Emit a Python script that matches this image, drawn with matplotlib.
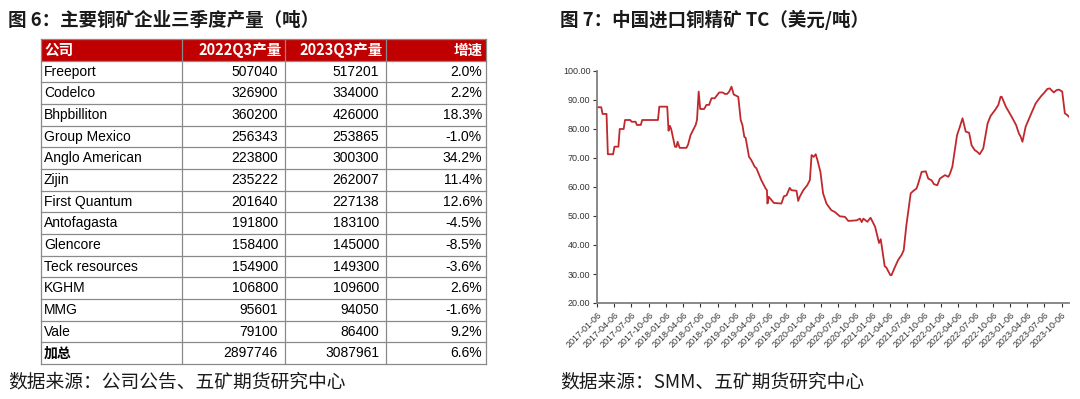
import matplotlib
matplotlib.use("Agg")
import matplotlib.pyplot as plt
from matplotlib.patches import Rectangle
import pandas as pd

plt.rcParams['font.family'] = ['Liberation Sans', 'Noto Sans CJK SC', 'DejaVu Sans']
CJK = ['Noto Sans CJK SC', 'DejaVu Sans']

# figure 6 table data
companies = ["Freeport", "Codelco", "Bhpbilliton", "Group Mexico", "Anglo American", "Zijin",
             "First Quantum", "Antofagasta", "Glencore", "Teck resources", "KGHM", "MMG", "Vale", "加总"]
q3_2022 = [507040, 326900, 360200, 256343, 223800, 235222, 201640, 191800, 158400, 154900,
           106800, 95601, 79100, 2897746]
q3_2023 = [517201, 334000, 426000, 253865, 300300, 262007, 227138, 183100, 145000, 149300,
           109600, 94050, 86400, 3087961]
growth = [2.0, 2.2, 18.3, -1.0, 34.2, 11.4, 12.6, -4.5, -8.5, -3.6, 2.6, -1.6, 9.2, 6.6]
headers = ["公司", "2022Q3产量", "2023Q3产量", "增速"]

# figure 7 TC data (USD/t)
tc_dates = [
    "2017-01-06", "2017-01-27", "2017-02-03", "2017-02-24", "2017-03-03", "2017-03-31", "2017-04-07",
    "2017-04-28", "2017-05-05", "2017-05-26", "2017-06-02", "2017-06-30", "2017-07-07", "2017-07-28",
    "2017-08-04", "2017-08-25", "2017-09-01", "2017-11-24", "2017-12-01", "2018-01-12", "2018-01-19",
    "2018-01-26", "2018-02-02", "2018-02-22", "2018-03-02", "2018-03-08", "2018-03-19", "2018-04-24",
    "2018-05-03", "2018-05-16", "2018-06-12", "2018-06-19", "2018-06-28", "2018-07-06", "2018-07-27",
    "2018-08-08", "2018-08-22", "2018-09-04", "2018-09-21", "2018-10-15", "2018-11-02", "2018-11-14",
    "2018-11-26", "2018-12-07", "2018-12-19", "2018-12-31", "2019-01-24", "2019-02-06", "2019-02-15",
    "2019-02-25", "2019-03-04", "2019-03-22", "2019-04-03", "2019-04-21", "2019-04-30", "2019-05-26",
    "2019-06-18", "2019-06-25", "2019-06-28", "2019-07-04", "2019-07-13", "2019-08-01", "2019-09-10",
    "2019-09-23", "2019-10-07", "2019-10-24", "2019-11-02", "2019-11-29", "2019-12-08", "2019-12-16",
    "2020-01-04", "2020-01-25", "2020-02-08", "2020-02-17", "2020-02-28", "2020-03-10", "2020-03-19",
    "2020-04-04", "2020-04-18", "2020-05-06", "2020-05-18", "2020-06-01", "2020-06-19", "2020-07-16",
    "2020-08-12", "2020-08-30", "2020-10-13", "2020-10-31", "2020-11-09", "2020-11-18", "2020-12-09",
    "2020-12-26", "2021-01-19", "2021-02-09", "2021-02-18", "2021-03-01", "2021-03-11", "2021-03-20",
    "2021-04-10", "2021-04-16", "2021-05-03", "2021-05-21", "2021-06-08", "2021-06-20", "2021-07-04",
    "2021-07-27", "2021-08-09", "2021-08-27", "2021-09-05", "2021-09-23", "2021-10-15", "2021-10-28",
    "2021-11-15", "2021-11-27", "2021-12-15", "2021-12-29", "2022-01-25", "2022-02-12", "2022-02-21",
    "2022-03-05", "2022-03-30", "2022-04-14", "2022-04-28", "2022-05-15", "2022-06-02", "2022-06-15",
    "2022-07-02", "2022-07-14", "2022-07-28", "2022-08-16", "2022-09-08", "2022-09-24", "2022-10-17",
    "2022-11-04", "2022-11-16", "2022-11-22", "2022-12-14", "2023-01-14", "2023-02-06", "2023-02-22",
    "2023-03-01", "2023-03-12", "2023-03-29", "2023-04-20", "2023-04-28", "2023-05-21", "2023-06-03",
    "2023-06-21", "2023-07-03", "2023-07-22", "2023-08-04", "2023-08-25", "2023-09-09", "2023-09-21",
    "2023-10-09", "2023-10-23", "2023-11-05", "2023-11-14",
]
tc_values = [
    87.5, 87.5, 85.2, 85.2, 71.3, 71.3, 73.9,
    73.9, 80.0, 80.0, 83.1, 83.1, 82.5, 82.5,
    81.4, 81.4, 83.1, 83.1, 87.7, 87.7, 79.4,
    81.1, 80.0, 73.9, 73.8, 75.6, 73.5, 73.5,
    74.7, 77.9, 81.4, 83.1, 92.9, 86.9, 86.9,
    88.3, 88.3, 90.6, 90.6, 92.6, 92.6, 92.1,
    92.1, 92.9, 94.6, 91.9, 91.1, 83.1, 81.4,
    77.3, 77.0, 70.4, 69.3, 67.0, 66.5, 62.4,
    59.5, 58.9, 54.3, 56.6, 56.0, 54.5, 54.3,
    56.8, 57.1, 59.7, 58.9, 58.7, 55.2, 56.6,
    58.9, 60.6, 62.4, 71.0, 70.4, 71.3, 69.3,
    65.2, 57.8, 54.3, 53.2, 52.0, 51.4, 49.9,
    49.7, 48.3, 48.5, 49.1, 47.9, 49.1, 48.0,
    49.4, 46.3, 40.7, 42.0, 37.1, 32.7, 32.2,
    29.6, 29.6, 32.2, 34.8, 36.5, 38.2, 46.8,
    57.8, 58.6, 59.5, 61.2, 65.2, 65.4, 62.9,
    62.3, 61.0, 60.6, 62.9, 64.1, 63.5, 64.7,
    67.0, 77.9, 80.8, 83.7, 79.1, 78.7, 74.4,
    72.7, 72.2, 71.3, 73.3, 81.9, 84.5, 86.5,
    88.3, 91.1, 91.1, 87.7, 84.2, 81.4, 78.3,
    77.6, 75.6, 80.8, 84.2, 85.4, 88.8, 90.0,
    91.5, 92.3, 93.8, 94.0, 92.6, 93.4, 93.6,
    92.9, 85.4, 84.8, 84.2,
]
tick_dates = [f"{y}-{m:02d}-06" for y in range(2017, 2024) for m in (1, 4, 7, 10)]

fig = plt.figure(figsize=(10.8, 3.99), dpi=100)

# titles and sources
fig.text(8 / 1080, 1 - 20 / 399, "图 6：主要铜矿企业三季度产量（吨）", family=CJK, fontsize=13.3,
         fontweight='bold', va='center', ha='left', color='#1a1a1a')
fig.text(560 / 1080, 1 - 20 / 399, "图 7：中国进口铜精矿 TC（美元/吨）", family=CJK, fontsize=13.3,
         fontweight='bold', va='center', ha='left', color='#1a1a1a')
fig.text(8 / 1080, 1 - 382 / 399, "数据来源：公司公告、五矿期货研究中心", family=CJK, fontsize=13.5,
         va='center', ha='left', color='#1a1a1a')
fig.text(560 / 1080, 1 - 382 / 399, "数据来源：SMM、五矿期货研究中心", family=CJK, fontsize=13.5,
         va='center', ha='left', color='#1a1a1a')

# table drawn in pixel coordinates
tab = fig.add_axes([0, 0, 1, 1])
tab.set_xlim(0, 1080)
tab.set_ylim(399, 0)
tab.axis('off')

col_edges = [41, 182, 285, 386, 486]
top, row_h = 39, 21.67
n_rows = len(companies) + 1
bottom = top + n_rows * row_h

tab.add_patch(Rectangle((col_edges[0], top), col_edges[-1] - col_edges[0], row_h,
                        facecolor='#C00000', edgecolor='none'))
for i in range(n_rows + 1):
    y = top + i * row_h
    tab.plot([col_edges[0], col_edges[-1]], [y, y], color='#8a8a8a', lw=0.9)
for x in col_edges:
    tab.plot([x, x], [top, bottom], color='#8a8a8a', lw=0.9)

for j, h in enumerate(headers):
    yc = top + row_h / 2
    if j == 0:
        tab.text(col_edges[0] + 3, yc, h, ha='left', va='center', color='white',
                 fontsize=10.5, fontweight='bold', family=CJK)
    else:
        tab.text(col_edges[j + 1] - 3, yc, h, ha='right', va='center', color='white',
                 fontsize=10.5, fontweight='bold', family=CJK)

for i, name in enumerate(companies):
    yc = top + (i + 1.5) * row_h
    last = i == len(companies) - 1
    tab.text(col_edges[0] + 3, yc, name, ha='left', va='center', fontsize=10,
             fontweight='bold' if last else 'normal', color='black')
    tab.text(col_edges[2] - 7, yc, str(q3_2022[i]), ha='right', va='center', fontsize=10)
    tab.text(col_edges[3] - 7, yc, str(q3_2023[i]), ha='right', va='center', fontsize=10)
    tab.text(col_edges[4] - 4, yc, f"{growth[i]:.1f}%", ha='right', va='center', fontsize=10)

# TC line chart
ax = fig.add_axes([597.3 / 1080, 1 - 303 / 399, (1069 - 597.3) / 1080, (303 - 71) / 399])
dates = pd.to_datetime(tc_dates)
ax.plot(dates, tc_values, color='#C0282D', lw=1.3)
ax.set_ylim(20, 100)
ax.set_xlim(pd.Timestamp("2017-01-06"), pd.Timestamp("2023-11-14"))
ax.set_yticks(range(20, 101, 10))
ax.set_yticklabels([f"{v:.2f}" for v in range(20, 101, 10)])
xt = pd.to_datetime(tick_dates)
ax.set_xticks(xt)
ax.set_xticklabels(tick_dates, rotation=45, ha='right', rotation_mode='anchor')
ax.tick_params(axis='both', labelsize=6.5, colors='#333333', length=3, width=0.8, pad=2)
for s in ['top', 'right']:
    ax.spines[s].set_visible(False)
for s in ['left', 'bottom']:
    ax.spines[s].set_color('#808080')
    ax.spines[s].set_linewidth(1.3)

fig.savefig("out.png", dpi=100, facecolor='white')
